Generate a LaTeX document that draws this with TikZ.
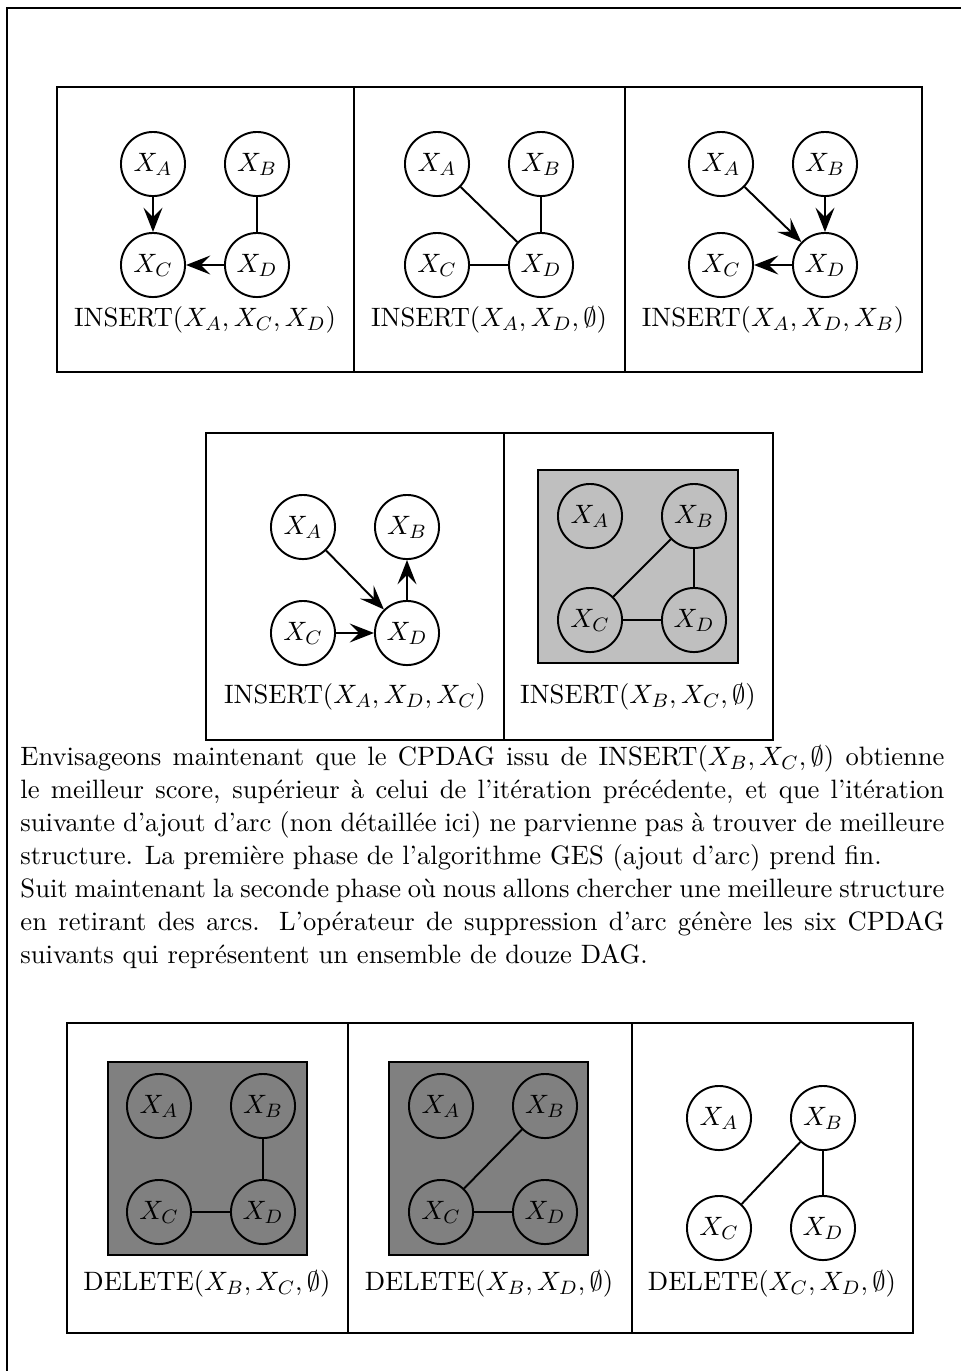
\documentclass[tikz,border=0pt]{standalone}
\usepackage{fontspec}
\usetikzlibrary{arrows.meta}
\newcommand\elevenpt{\fontsize{10.95pt}{13.6pt}\selectfont}
\tikzset{
  vnode/.style={circle,draw=black,thick,minimum size=26.4pt,inner sep=0pt,font=\elevenpt},
  capnode/.style={inner sep=0pt,font=\elevenpt},
  tabline/.style={draw=black,line width=0.5pt},
  grayboxl/.style={draw=black,thick,fill=lightgray},
  grayboxd/.style={draw=black,thick,fill=gray},
  arc/.style={thick},
  darc/.style={thick,-{Stealth[length=10pt,width=7.8pt,inset=3.9pt]}},
}
\newcommand\fournodes[4]{%
  \begin{scope}[shift={(#2,#3)}]
    \node[vnode] (#1A) at (0,0) {$X_A$};
    \node[vnode] (#1B) at (104,0) {$X_B$};
    \node[vnode] (#1C) at (0,#4) {$X_C$};
    \node[vnode] (#1D) at (104,#4) {$X_D$};
  \end{scope}}
\begin{document}
\begin{tikzpicture}[x=0.412pt,y=-0.412pt]
\useasboundingbox (0,0) rectangle (961,1371);
% outer frame
\draw[line width=0.6pt] (7,1371) -- (7,8) -- (961,8);

% ---------- Row 1 ----------
\draw[tabline] (57,87) rectangle (922,372);
\draw[tabline] (354,87) -- (354,372);
\draw[tabline] (625,87) -- (625,372);
% panel 1
\fournodes{p1}{153}{164}{101}
\draw[darc] (p1A) -- (p1C);
\draw[darc] (p1D) -- (p1C);
\draw[arc] (p1B) -- (p1D);
\node[capnode] (cap1) at (205,320) {INSERT$(X_A,X_C,X_D)$};
% panel 2
\fournodes{p2}{437}{164}{101}
\draw[arc] (p2A) -- (p2D);
\draw[arc] (p2B) -- (p2D);
\draw[arc] (p2C) -- (p2D);
\node[capnode] (cap2) at (489,320) {INSERT$(X_A,X_D,\emptyset)$};
% panel 3
\fournodes{p3}{721}{164}{101}
\draw[darc] (p3A) -- (p3D);
\draw[darc] (p3B) -- (p3D);
\draw[darc] (p3D) -- (p3C);
\node[capnode] (cap3) at (773,320) {INSERT$(X_A,X_D,X_B)$};

% ---------- Row 2 ----------
\draw[tabline] (206,433) rectangle (773,740);
\draw[tabline] (504,433) -- (504,740);
% panel 4
\fournodes{p4}{303}{527}{106}
\draw[darc] (p4A) -- (p4D);
\draw[darc] (p4C) -- (p4D);
\draw[darc] (p4D) -- (p4B);
\node[capnode] (cap4) at (355,697) {INSERT$(X_A,X_D,X_C)$};
% panel 5
\draw[grayboxl] (538,470) rectangle (738,663);
\fournodes{p5}{590}{516}{104}
\draw[arc] (p5B) -- (p5C);
\draw[arc] (p5B) -- (p5D);
\draw[arc] (p5C) -- (p5D);
\node[capnode] (cap5) at (638,697) {INSERT$(X_B,X_C,\emptyset)$};

% ---------- Text ----------
\node[inner sep=0pt,anchor=north west,text width=380.7pt,align=justify,font=\elevenpt] (para) at (20,745)
{\hyphenpenalty=10000\exhyphenpenalty=10000
Envisageons maintenant que le CPDAG issu de INSERT$(X_B,X_C,\emptyset)$ obtienne\linebreak
le meilleur score, supérieur à celui de l'itération précédente, et que l'itération\linebreak
suivante d'ajout d'arc (non détaillée ici) ne parvienne pas à trouver de meilleure\linebreak
structure. La première phase de l'algorithme GES (ajout d'arc) prend fin.\par
Suit maintenant la seconde phase où nous allons chercher une meilleure structure\linebreak
en retirant des arcs. L'opérateur de suppression d'arc génère les six CPDAG\linebreak
suivants qui représentent un ensemble de douze DAG.};

% ---------- Row 3 ----------
\draw[tabline] (67,1023) rectangle (913,1333);
\draw[tabline] (348,1023) -- (348,1333);
\draw[tabline] (632,1023) -- (632,1333);
% panel 6
\draw[grayboxd] (108,1062) rectangle (307,1255);
\fournodes{p6}{159}{1106}{106}
\draw[arc] (p6B) -- (p6D);
\draw[arc] (p6C) -- (p6D);
\node[capnode] (cap6) at (207,1284) {DELETE$(X_B,X_C,\emptyset)$};
% panel 7
\draw[grayboxd] (389,1062) rectangle (588,1255);
\fournodes{p7}{441}{1106}{106}
\draw[arc] (p7B) -- (p7C);
\draw[arc] (p7C) -- (p7D);
\node[capnode] (cap7) at (489,1284) {DELETE$(X_B,X_D,\emptyset)$};
% panel 8
\fournodes{p8}{719}{1118}{110}
\draw[arc] (p8B) -- (p8C);
\draw[arc] (p8B) -- (p8D);
\node[capnode] (cap8) at (772,1284) {DELETE$(X_C,X_D,\emptyset)$};
\end{tikzpicture}
\end{document}
